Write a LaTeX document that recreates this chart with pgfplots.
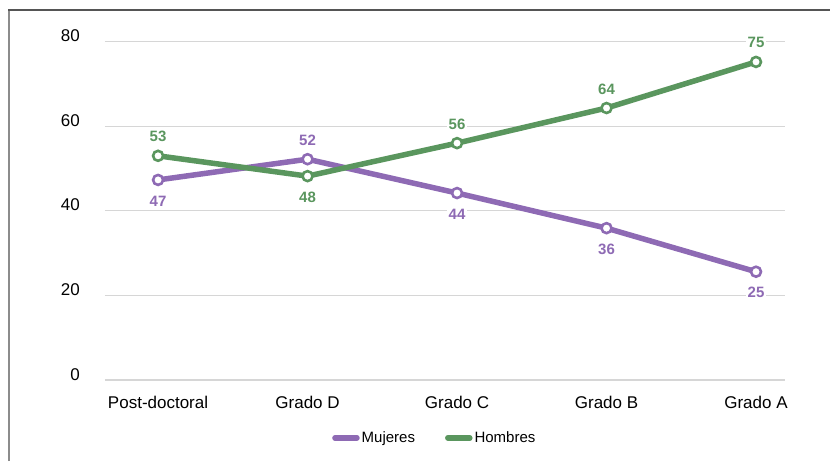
\documentclass[border=0pt]{standalone}
\usepackage{fontspec}
\setmainfont{Liberation Sans}
\usepackage{pgfplots}
\pgfplotsset{compat=1.18}
\definecolor{muj}{RGB}{142,106,180}
\definecolor{hom}{RGB}{90,150,94}
\definecolor{gridc}{RGB}{214,214,214}
\definecolor{frametop}{RGB}{85,85,85}
\definecolor{frameleft}{RGB}{140,140,140}
\begin{document}
\begin{tikzpicture}
\useasboundingbox (-105pt,-81pt) rectangle (725pt,380pt);
\draw[line width=1.5pt, frameleft] (-96pt,-81pt) -- (-96pt,370pt);
\draw[line width=1.5pt, frametop] (-96.75pt,370pt) -- (725pt,370pt);
\begin{axis}[
  scale only axis, width=680pt, height=338.4pt,
  xmin=-0.355, xmax=4.194, ymin=0, ymax=80,
  clip=false,
  axis line style={draw=none},
  ytick={0,20,40,60,80},
  xtick={0,1,2,3,4},
  xticklabels={Post-doctoral,Grado D,Grado C,Grado B,Grado A},
  ymajorgrids, grid style={gridc, line width=1.2pt},
  major tick length=0pt,
  tick label style={font=\fontsize{17}{20}\selectfont},
  /pgf/number format/assume math mode=true,
  yticklabel style={anchor=base east, inner sep=0pt, xshift=-25pt},
  xticklabel style={anchor=base, inner sep=0pt, yshift=-28pt},
  legend style={at={(0.485,-0.171)}, anchor=center, draw=none, fill=none,
    legend columns=2, font=\fontsize{15}{17}\selectfont,
    /tikz/every even column/.append style={column sep=28pt}},
  legend cell align=left,
  legend image code/.code={\draw[#1, line width=5.5pt, line cap=round] (-6pt,0pt) -- (16pt,0pt);},
  lab/.style={forget plot, draw=none, mark=none, point meta=explicit symbolic, nodes near coords,
    every node near coord/.append style={anchor=center, font=\fontsize{15}{17}\selectfont\bfseries, fill=white, inner sep=1.5pt, text=#1}},
  above/.style={every node near coord/.append style={yshift=19pt}},
  below/.style={every node near coord/.append style={yshift=-21pt}},
]
\addplot[muj, line width=5.5pt, mark=*, mark size=5pt, mark options={fill=white, line width=2.6pt}]
  coordinates {(0,47.3) (1,52.2) (2,44.2) (3,35.9) (4,25.6)};
\addlegendentry{Mujeres}
\addplot[hom, line width=5.5pt, mark=*, mark size=5pt, mark options={fill=white, line width=2.6pt}]
  coordinates {(0,53.0) (1,48.2) (2,56.0) (3,64.3) (4,75.2)};
\addlegendentry{Hombres}
% data labels
\addplot[lab=muj, below] coordinates {(0,47.3) [47] (2,44.2) [44] (3,35.9) [36] (4,25.6) [25]};
\addplot[lab=muj, above] coordinates {(1,52.2) [52]};
\addplot[lab=hom, above] coordinates {(0,53.0) [53] (2,56.0) [56] (3,64.3) [64] (4,75.2) [75]};
\addplot[lab=hom, below] coordinates {(1,48.2) [48]};
\end{axis}
\end{tikzpicture}
\end{document}
